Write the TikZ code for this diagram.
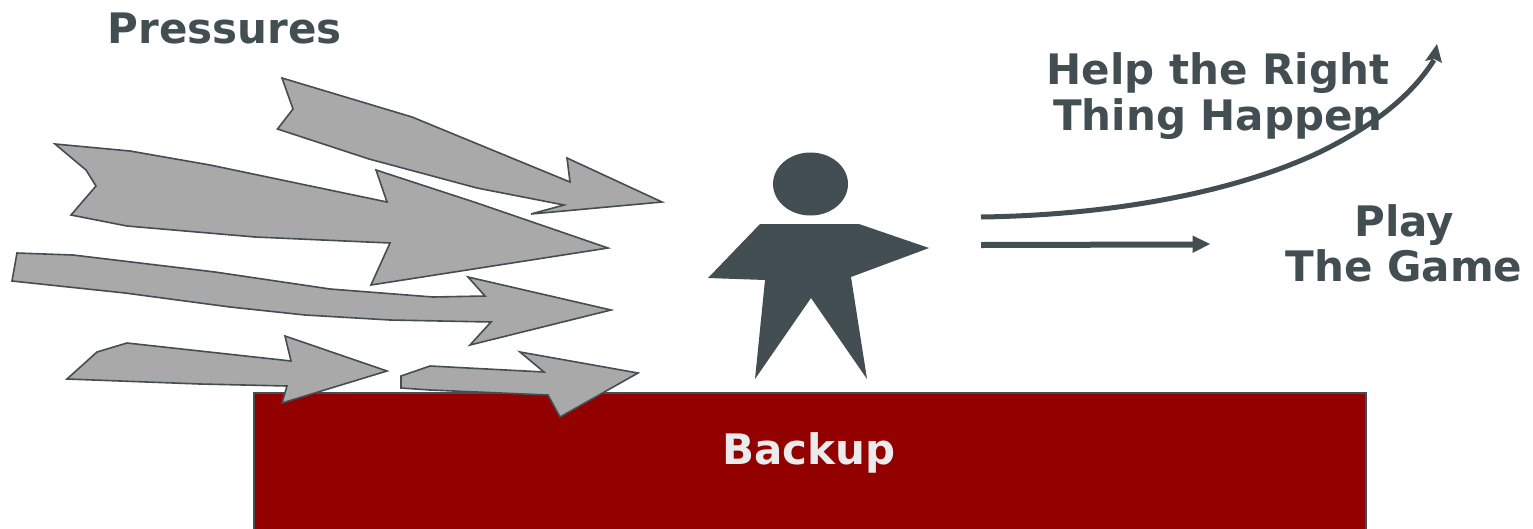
\documentclass[tikz,border=0pt]{standalone}
\usepackage{fontspec}
\setmainfont{DejaVu Sans}
\definecolor{slate}{HTML}{434E52}
\definecolor{arrowgray}{HTML}{A9A9A9}
\definecolor{backup}{HTML}{930000}
\tikzset{
 x=1pt,y=-1pt,
 pressure/.style={draw=slate,fill=arrowgray,line width=1.6pt,line join=miter},
 label/.style={text=slate,font=\bfseries\fontsize{42}{46}\selectfont,align=center,inner sep=0pt},
 swoosh/.style={draw=slate,line width=5pt}
}
\begin{document}
\begin{tikzpicture}
\useasboundingbox (0,0) rectangle (1533,528);
\fill[white] (0,0) rectangle (1533,528);
\node[draw=slate,fill=backup,line width=1.6pt,minimum width=1112pt,minimum height=140pt,inner sep=0pt,anchor=north west] (backupbox) at (253,392) {};
\node[text=white!92!black,font=\bfseries\fontsize{42}{46}\selectfont,inner sep=0pt] (backuplabel) at (809,453) {Backup};
\draw[pressure] (282,78)--(293,109)--(277.5,129)--(369,159)--(477,188)--(564,205)--(531,214)--(662,202)--(567,158)--(570,182)--(412,117)--cycle;
\draw[pressure] (55,144)--(86,170)--(96,186)--(71,215)--(127,226)--(255,237)--(390,243)--(371,285)--(608,248)--(477,203)--(376,170)--(387,202)--(210,165)--(130,151)--cycle;
\draw[pressure] (17,253)--(73,255)--(215,272)--(330,289)--(433,297)--(485,296)--(468,277)--(611,310)--(470,345)--(491,322)--(390,320)--(305,315)--(230,307)--(125,293)--(12,281)--cycle;
\draw[pressure] (67,379)--(97,352)--(127,343)--(291,361)--(285,336)--(387,371)--(282,403)--(287,386)--(200,384)--cycle;
\draw[pressure] (401,376)--(430,366)--(544,372)--(520,352)--(638,373)--(560,417)--(548,395)--(430,390)--(401,388)--cycle;
\node[label] (pressures) at (225,28) {Pressures};
\node[label] (help) at (1218,96) {Help the Right\\Thing Happen};
\node[label] (play) at (1404,243.5) {Play\\[-1pt]The Game};
\fill[slate] (810.5,184) ellipse (37.5 and 31.5);
\fill[slate] (760,224)--(859,224)--(929,248)--(851,277)--(867,379)--(811,298)--(755,379)--(765,280)--(708,278)--cycle;
\coordinate (upa) at (981,217);
\coordinate (upb) at (1437,44);
\coordinate (ra) at (981,245);
\coordinate (rb) at (1210,244);
\draw[swoosh] (upa) .. controls (1120,215) and (1240,190) .. (1320,152) .. controls (1375,125) and (1412,95) .. (1434,60);
\fill[slate] (upb)--(1442,63)--(1434,59)--(1425,61)--cycle;
\draw[swoosh,line width=6pt] (ra) -- (1194,244.5);
\fill[slate] (rb)--(1192.5,235.5)--(1192.5,253)--cycle;
\end{tikzpicture}
\end{document}
